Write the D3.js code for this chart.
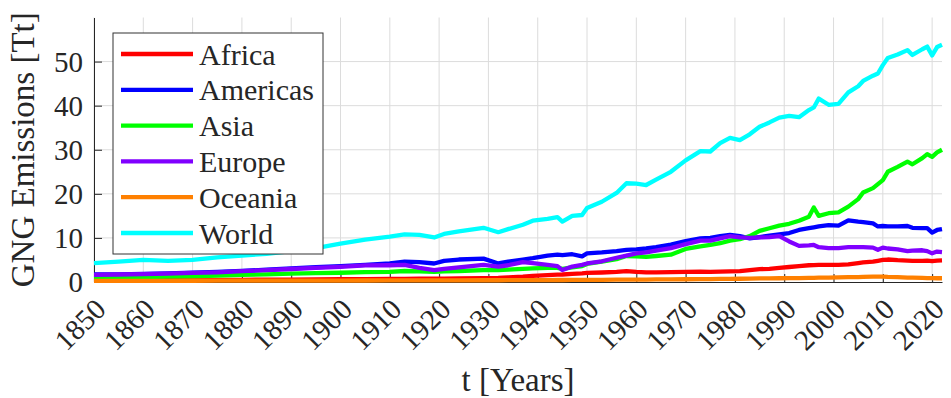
<!DOCTYPE html>
<html>
<head>
<meta charset="utf-8">
<script src="https://cdn.jsdelivr.net/npm/d3@7"></script>
<style>
  html, body { margin: 0; padding: 0; background: #fff; }
  svg { display: block; }
  svg text { font-family: "Liberation Serif", "DejaVu Serif", "Noto Serif", serif !important; fill: #262626; }
</style>
</head>
<body>
<svg id="chart" width="951" height="398"></svg>
<script>
// Sample years shared by every region series
const years = [
  1850, 1855, 1860, 1865, 1870, 1875, 1880, 1885, 1890, 1895,
  1900, 1905, 1910, 1913, 1916, 1919, 1921, 1924, 1929, 1932,
  1934, 1937, 1939, 1942, 1944, 1945, 1947, 1949, 1950, 1953,
  1956, 1958, 1960, 1962, 1964, 1967, 1970, 1973, 1975, 1977,
  1979, 1981, 1983, 1985, 1987, 1989, 1991, 1993, 1995, 1996,
  1997, 1999, 2001, 2003, 2005, 2006, 2008, 2009, 2010, 2011,
  2013, 2015, 2016, 2018, 2019, 2020, 2021, 2022
];

// Emissions per region [Tt]
const africa = [
  0.35, 0.37, 0.4, 0.42, 0.45, 0.47, 0.5, 0.52, 0.55, 0.58,
  0.62, 0.66, 0.7, 0.72, 0.74, 0.76, 0.78, 0.82, 0.9, 0.95,
  1.05, 1.2, 1.4, 1.55, 1.65, 1.7, 1.85, 1.95, 2.05, 2.15,
  2.3, 2.45, 2.3, 2.2, 2.2, 2.25, 2.3, 2.35, 2.3, 2.35,
  2.4, 2.45, 2.7, 2.9, 3.0, 3.2, 3.4, 3.6, 3.8, 3.85,
  3.9, 3.9, 3.9, 4.0, 4.3, 4.45, 4.6, 4.8, 5.0, 5.1,
  4.95, 4.85, 4.8, 4.8, 4.85, 4.75, 4.85, 4.9
];
const americas = [
  1.7, 1.75, 1.85, 1.95, 2.1, 2.3, 2.5, 2.8, 3.1, 3.35,
  3.6, 3.9, 4.2, 4.6, 4.5, 4.2, 4.8, 5.1, 5.3, 4.2,
  4.6, 5.1, 5.4, 6.0, 6.2, 6.1, 6.3, 5.8, 6.5, 6.7,
  7.0, 7.3, 7.4, 7.6, 7.9, 8.5, 9.3, 9.9, 10.0, 10.4,
  10.7, 10.4, 9.9, 10.2, 10.5, 10.8, 11.1, 11.8, 12.2, 12.4,
  12.6, 12.9, 12.8, 14.0, 13.7, 13.6, 13.3, 12.6, 12.7, 12.6,
  12.6, 12.7, 12.3, 12.2, 12.2, 11.2, 11.8, 12.0
];
const asia = [
  1.0, 1.05, 1.1, 1.2, 1.3, 1.45, 1.6, 1.75, 1.9, 2.0,
  2.1, 2.25, 2.3, 2.5, 2.4, 2.3, 2.4, 2.5, 2.7, 2.7,
  2.8, 3.0, 3.1, 3.2, 3.2, 3.0, 3.3, 3.6, 4.1, 4.6,
  5.2, 5.9, 5.8, 5.7, 5.9, 6.2, 7.5, 8.1, 8.4, 8.8,
  9.4, 9.7, 10.4, 11.6, 12.2, 12.8, 13.2, 13.9, 14.8, 16.9,
  15.0, 15.6, 15.8, 17.1, 18.8, 20.3, 21.3, 22.2, 23.1, 25.0,
  26.1, 27.3, 26.7, 28.1, 29.0, 28.4, 29.4, 30.0
];
const europe = [
  1.6, 1.7, 1.8, 1.9, 2.05, 2.2, 2.45, 2.7, 2.95, 3.2,
  3.45, 3.75, 3.8, 3.9, 3.2, 2.7, 3.0, 3.3, 3.9, 3.5,
  3.8, 4.5, 4.3, 3.9, 3.6, 2.7, 3.5, 3.9, 4.2, 4.7,
  5.5, 6.0, 6.5, 6.7, 7.1, 7.7, 8.6, 9.4, 9.4, 9.9,
  10.4, 10.1, 10.0, 10.1, 10.2, 10.4, 9.2, 8.2, 8.3, 8.4,
  7.9, 7.7, 7.7, 7.9, 7.9, 7.9, 7.8, 7.3, 7.8, 7.6,
  7.4, 7.0, 7.1, 7.2, 7.0, 6.5, 6.9, 6.8
];
const oceania = [
  0.25, 0.25, 0.26, 0.27, 0.28, 0.29, 0.3, 0.3, 0.31, 0.32,
  0.33, 0.34, 0.35, 0.36, 0.36, 0.36, 0.37, 0.38, 0.4, 0.4,
  0.41, 0.42, 0.43, 0.44, 0.45, 0.45, 0.46, 0.47, 0.48, 0.5,
  0.52, 0.54, 0.55, 0.56, 0.58, 0.6, 0.62, 0.65, 0.67, 0.69,
  0.72, 0.74, 0.76, 0.8, 0.82, 0.85, 0.88, 0.9, 0.93, 0.95,
  0.97, 1.0, 1.05, 1.1, 1.12, 1.15, 1.2, 1.22, 1.2, 1.15,
  1.1, 1.0, 0.98, 0.92, 0.9, 0.86, 0.85, 0.85
];
const world = [
  4.3, 4.6, 5.0, 4.8, 5.0, 5.6, 6.0, 6.4, 7.0, 7.7,
  8.7, 9.6, 10.3, 10.8, 10.7, 10.1, 10.9, 11.5, 12.3, 11.3,
  12.0, 13.0, 13.9, 14.3, 14.7, 13.7, 15.0, 15.2, 16.8, 18.2,
  20.2, 22.4, 22.3, 22.0, 23.2, 25.0, 27.6, 29.7, 29.6, 31.5,
  32.7, 32.2, 33.5, 35.2, 36.2, 37.3, 37.7, 37.4, 39.0, 39.6,
  41.6, 40.2, 40.4, 43.0, 44.4, 45.6, 46.8, 47.3, 49.2, 50.8,
  51.6, 52.6, 51.5, 52.8, 53.4, 51.4, 53.3, 53.8
];

const seriesNames = ["Africa", "Americas", "Asia", "Europe", "Oceania", "World"];
const seriesValues = [africa, americas, asia, europe, oceania, world];
const seriesColors = ["#ff0000", "#0000ff", "#00ff00", "#8000ff", "#ff8000", "#00ffff"];

const xTicks = [1850, 1860, 1870, 1880, 1890, 1900, 1910, 1920, 1930, 1940,
                1950, 1960, 1970, 1980, 1990, 2000, 2010, 2020];
const yTicks = [0, 10, 20, 30, 40, 50];

const xLabel = "t [Years]";
const yLabel = "GNG Emissions [Tt]";

// ---- layout ----
const plot = { left: 94, right: 942, top: 17.5, bottom: 282 };
const serif = "'Liberation Serif', 'DejaVu Serif', 'Noto Serif', serif";

const svg = d3.select("#chart");
svg.append("rect").attr("width", 951).attr("height", 398).attr("fill", "#fff");

const x = d3.scaleLinear().domain([1850, 2022]).range([plot.left, plot.right]);
const y = d3.scaleLinear().domain([0, 60]).range([plot.bottom, plot.top]);

// grid
const grid = svg.append("g").attr("stroke", "#dcdcdc").attr("stroke-width", 1);
grid.selectAll(".gx").data(xTicks).join("line")
  .attr("x1", d => x(d)).attr("x2", d => x(d))
  .attr("y1", y(0)).attr("y2", y(60));
grid.selectAll(".gy").data(yTicks.filter(d => d > 0)).join("line")
  .attr("x1", plot.left).attr("x2", plot.right)
  .attr("y1", d => y(d)).attr("y2", d => y(d));

// axes
const xAxis = svg.append("g")
  .attr("transform", `translate(0,${plot.bottom})`)
  .call(d3.axisBottom(x).tickValues(xTicks).tickFormat(d3.format("d"))
        .tickSizeInner(-8).tickSizeOuter(0));
xAxis.selectAll("text")
  .attr("y", null).attr("dy", null)
  .attr("text-anchor", "end")
  .attr("transform", "translate(13,29) rotate(-45)");

const yAxis = svg.append("g")
  .attr("transform", `translate(${plot.left},0)`)
  .call(d3.axisLeft(y).tickValues(yTicks)
        .tickSizeInner(-8).tickSizeOuter(0).tickPadding(11));
yAxis.selectAll("text").attr("dy", "0.34em");

[xAxis, yAxis].forEach(g => g.attr("font-family", serif).attr("font-size", 29));
svg.selectAll(".domain, .tick line").attr("stroke", "#262626").attr("stroke-width", 1);
svg.selectAll(".tick text").attr("fill", "#262626")
  .style("font-family", serif).style("font-size", "29px");

// series lines
const line = d3.line()
  .x((d, i) => x(years[i]))
  .y(d => y(d));

svg.append("g").attr("fill", "none")
  .selectAll("path").data(seriesValues).join("path")
  .attr("d", d => line(d))
  .attr("stroke", (d, i) => seriesColors[i])
  .attr("stroke-width", 4.3)
  .attr("stroke-linejoin", "round");

// axis labels
svg.append("text")
  .attr("x", (plot.left + plot.right) / 2).attr("y", 391)
  .attr("text-anchor", "middle")
  .style("font-family", serif).style("font-size", "33px")
  .text(xLabel);

svg.append("text")
  .attr("transform", `translate(34,${(plot.top + plot.bottom) / 2}) rotate(-90)`)
  .attr("text-anchor", "middle")
  .style("font-family", serif).style("font-size", "33px")
  .text(yLabel);

// legend
const legend = svg.append("g");
legend.append("rect")
  .attr("x", 113).attr("y", 33).attr("width", 210).attr("height", 221)
  .attr("fill", "#fff").attr("stroke", "#333").attr("stroke-width", 1);

const rowY = i => 54 + i * 35.8;
legend.selectAll("line").data(seriesNames).join("line")
  .attr("x1", 121).attr("x2", 193)
  .attr("y1", (d, i) => rowY(i)).attr("y2", (d, i) => rowY(i))
  .attr("stroke", (d, i) => seriesColors[i])
  .attr("stroke-width", 4.3);
legend.selectAll("text").data(seriesNames).join("text")
  .attr("x", 199).attr("y", (d, i) => rowY(i))
  .attr("dy", "0.35em")
  .style("font-family", serif).style("font-size", "30px")
  .text(d => d);
</script>
</body>
</html>
